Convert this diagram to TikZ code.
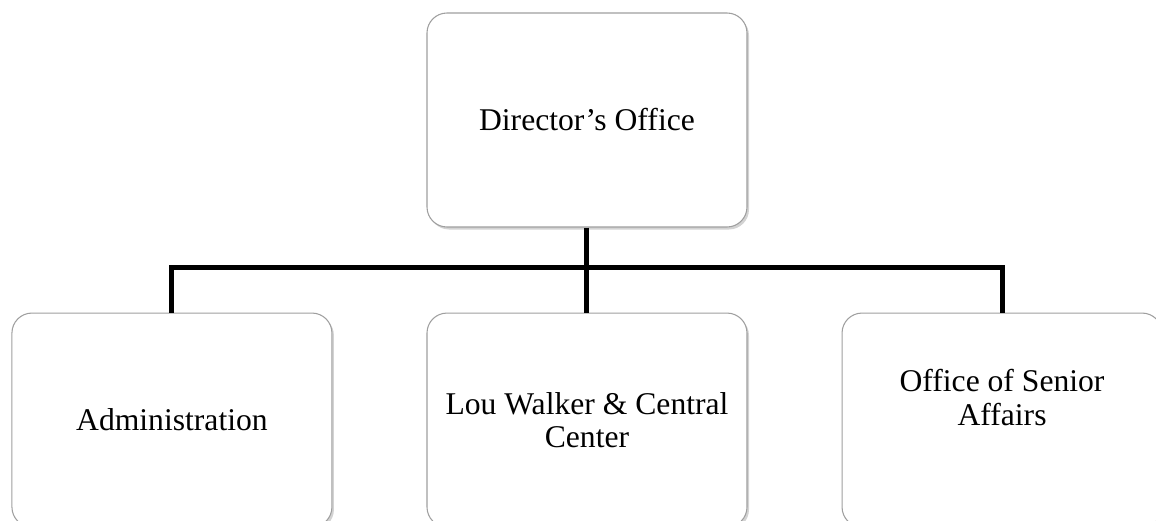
\documentclass[tikz,border=0pt]{standalone}
\usepackage{fontspec}
\setmainfont{Liberation Serif}
\usepackage{tikz}
\usetikzlibrary{positioning, shadows}

\begin{document}
\begin{tikzpicture}[
  node distance=1.7cm and 1.88cm,
  unit/.style={rectangle, draw=gray!75, line width=0.6pt, fill=white, rounded corners=0.4cm,
    minimum width=6.4cm, minimum height=4.28cm, text centered,
    font=\fontsize{18}{19}\selectfont,
    drop shadow={shadow xshift=0.04cm, shadow yshift=-0.05cm, opacity=0.35, fill=gray}},
  link/.style={line width=0.1cm, black},
  every node/.style={align=center}
]

\useasboundingbox (-11.74,2.4) rectangle (11.38,-8.02);

%% Top of the chart
\node[unit] (director) {Director's Office};

%% Second level
\node[unit, below=of director] (center) {Lou Walker \& Central\\Center};
\node[unit, left=of center] (admin) {Administration};
\node[unit, right=of center, text depth=0.9cm] (senior) {Office of Senior\\Affairs};

%% Connections
\coordinate[below=0.8cm of director] (bus);
\draw[link] (director.south) -- (center.north);
\draw[link] (admin.north) |- (bus) -| (senior.north);

\end{tikzpicture}
\end{document}
